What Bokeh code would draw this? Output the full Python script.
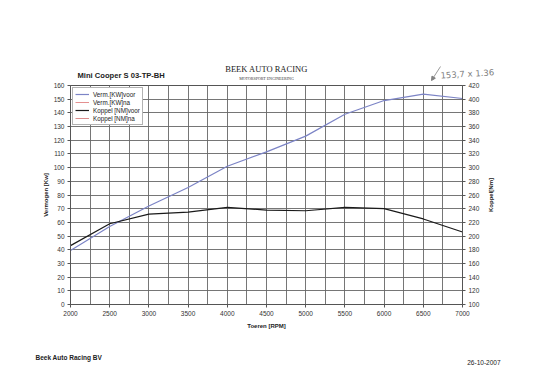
import math
from bokeh.plotting import figure
from bokeh.layouts import column, row
from bokeh.models import (Range1d, LinearAxis, Label, Legend, LegendItem, FixedTicker,
                          Arrow, NormalHead)
from bokeh.embed import file_html
from bokeh.resources import INLINE

# ---- data ----
rpm = [2000, 2500, 3000, 3500, 4000, 4500, 5000, 5500, 6000, 6500, 7000]
verm_voor = [39.5, 57, 72, 85.5, 101, 111.5, 123, 139, 149, 153.7, 150.5]
verm_na = [0, 0, 0, 0, 0, 0, 0, 0, 0, 0, 0]
koppel_voor = [186, 218, 232, 235, 242, 238, 237, 242, 240, 225, 206]
koppel_na = [100, 100, 100, 100, 100, 100, 100, 100, 100, 100, 100]

x_ticks = [2000, 2500, 3000, 3500, 4000, 4500, 5000, 5500, 6000, 6500, 7000]
x_minor = [2250, 2750, 3250, 3750, 4250, 4750, 5250, 5750, 6250, 6750]
left_ticks = list(range(0, 161, 10))
right_ticks = list(range(100, 421, 20))

title = "Mini Cooper S 03-TP-BH"
x_label = "Toeren [RPM]"
left_label = "Vermogen [Kw]"
right_label = "Koppel[Nm]"
series_names = ["Verm.[KW]voor", "Verm.[KW]na", "Koppel [NM]voor", "Koppel [NM]na"]
company = "Beek Auto Racing BV"
date = "26-10-2007"
logo = "BEEK AUTO RACING"
logo_sub = "MOTORSPORT ENGINEERING"
note = "153,7 x 1.36"

W = 522
HEAD_H = 81
TOP_B = 4
FL, FR = 70, 462
MAIN_W = 482
SIDE_W = W - MAIN_W
FRAME_H = 219
BOT_B = 36
MAIN_H = TOP_B + FRAME_H + BOT_B
FOOT_H = 376 - HEAD_H - MAIN_H
FONT = "Liberation Sans"


def blank(w, h):
    f = figure(width=w, height=h, output_backend="svg", toolbar_location=None,
               x_range=Range1d(0, w), y_range=Range1d(h, 0),
               x_axis_type=None, y_axis_type=None, min_border=0, frame_align=False)
    f.outline_line_color = None
    f.background_fill_color = "white"
    f.border_fill_color = "white"
    return f


def lab(f, x, y, text, size, style="normal", color="#222222", font=FONT, align="left",
        angle=0.0, baseline="alphabetic"):
    f.add_layout(Label(x=x, y=y, text=text, text_font=font, text_font_size=size,
                       text_font_style=style, text_color=color, text_align=align,
                       text_baseline=baseline, angle=angle))


# ---- header ----
head = blank(W, HEAD_H)
lab(head, 77, 75, title, "7.6px", "bold")
lab(head, 266, 68, logo, "8.5px", "normal", "#1a1a1a", "Liberation Serif", "center")
lab(head, 266, 78, logo_sub, "4px", "normal", "#333333", "Liberation Serif", "center")
lab(head, 440, 75, note, "8.5px", "normal", "#808080", "DejaVu Sans", "left", angle=0.06)
head.add_layout(Arrow(end=NormalHead(size=4, fill_color="#808080", line_color="#808080"),
                      x_start=440, y_start=66, x_end=431, y_end=80,
                      line_color="#808080", line_width=0.8))

# ---- main chart ----
p = figure(width=MAIN_W, height=MAIN_H, output_backend="svg", toolbar_location=None,
           x_range=Range1d(2000, 7000), y_range=Range1d(0, 160),
           min_border_left=FL, min_border_right=MAIN_W - FR, min_border_top=TOP_B,
           min_border_bottom=BOT_B, frame_align=False)
p.extra_y_ranges = {"nm": Range1d(100, 420)}
p.background_fill_color = "white"
p.border_fill_color = "white"
p.outline_line_color = "#555555"
p.outline_line_width = 1


def style_axis(ax):
    ax.major_label_text_font = FONT
    ax.major_label_text_font_size = "6.5px"
    ax.major_label_text_color = "#333333"
    ax.axis_label_text_font = FONT
    ax.axis_label_text_font_size = "6px"
    ax.axis_label_text_font_style = "bold"
    ax.axis_label_text_color = "#222222"
    ax.axis_line_color = "#555555"
    ax.major_tick_line_color = "#555555"
    ax.major_tick_out = 3
    ax.major_tick_in = 0
    ax.minor_tick_line_color = None
    ax.major_label_standoff = 3


p.xaxis.ticker = FixedTicker(ticks=x_ticks)
p.yaxis.ticker = FixedTicker(ticks=left_ticks)
style_axis(p.xaxis[0])
style_axis(p.yaxis[0])
p.xaxis.axis_label = x_label
p.xaxis.axis_label_standoff = 4
p.yaxis.axis_label = left_label
p.yaxis.axis_label_standoff = 2

ra = LinearAxis(y_range_name="nm", ticker=FixedTicker(ticks=right_ticks))
style_axis(ra)
p.add_layout(ra, "right")

p.xgrid.ticker = FixedTicker(ticks=x_ticks + x_minor)
p.xgrid.grid_line_color = "#666666"
p.xgrid.grid_line_width = 0.9
p.ygrid.ticker = FixedTicker(ticks=left_ticks)
p.ygrid.grid_line_color = "#666666"
p.ygrid.grid_line_width = 0.9

r1 = p.line(rpm, verm_voor, line_color="#7c84c6", line_width=1.2)
r2 = p.line(rpm, verm_na, line_color="#e49090", line_width=1.0)
r3 = p.line(rpm, koppel_voor, line_color="#1a1a1a", line_width=1.2, y_range_name="nm")
r4 = p.line(rpm, koppel_na, line_color="#dc8c8c", line_width=1.0, y_range_name="nm")

legend = Legend(items=[LegendItem(label=series_names[0], renderers=[r1]),
                       LegendItem(label=series_names[1], renderers=[r2]),
                       LegendItem(label=series_names[2], renderers=[r3]),
                       LegendItem(label=series_names[3], renderers=[r4])],
                location=(2, FRAME_H - 40))
legend.label_text_font = FONT
legend.label_text_font_size = "6.3px"
legend.label_text_color = "#222222"
legend.glyph_width = 14
legend.glyph_height = 8
legend.label_height = 8
legend.label_standoff = 4
legend.spacing = 0
legend.padding = 2
legend.margin = 0
legend.border_line_color = "#666666"
legend.border_line_width = 0.8
legend.background_fill_alpha = 1
p.add_layout(legend)

# ---- right axis title (reads bottom to top) ----
side = blank(SIDE_W, MAIN_H)
lab(side, 490 - MAIN_W, TOP_B + FRAME_H / 2, right_label, "6px", "bold", "#222222", FONT,
    "center", math.pi / 2, "middle")

# ---- footer ----
foot = blank(W, FOOT_H)
y0 = HEAD_H + MAIN_H
lab(foot, 35, 357 - y0, company, "6.5px", "bold")
lab(foot, 500, 362 - y0, date, "6.5px", "normal", "#222222", FONT, "right")

layout = column(head, row(p, side, spacing=0), foot, spacing=0)
open("out.html", "w").write(file_html(layout, INLINE))
